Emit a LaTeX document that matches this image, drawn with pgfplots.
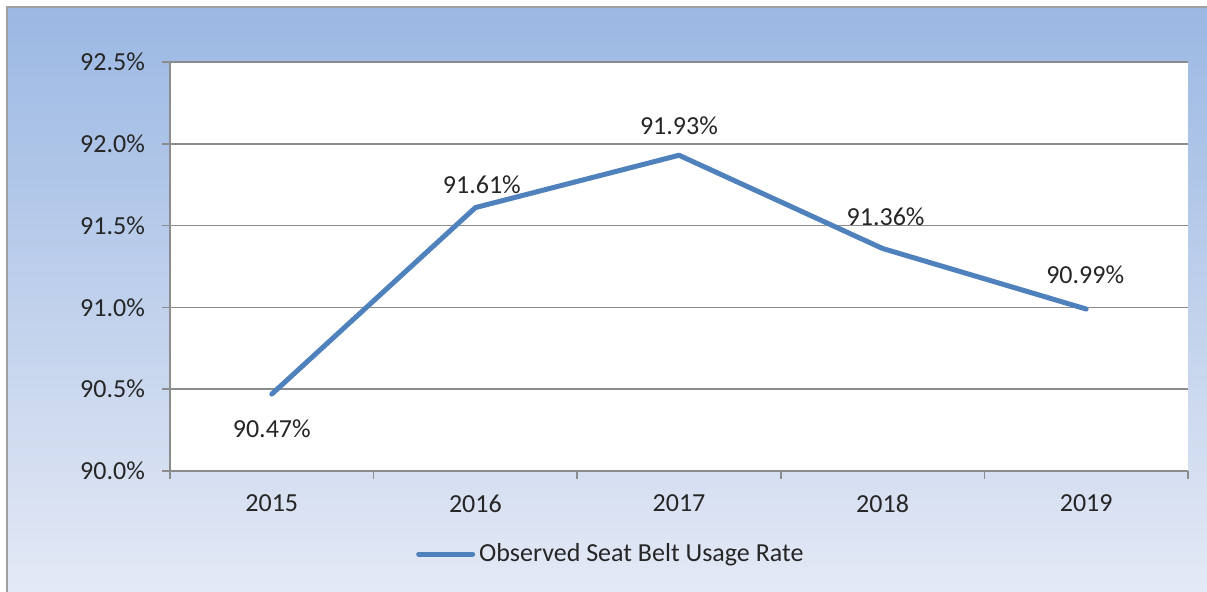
\documentclass[border=0pt]{standalone}
\usepackage{pgfplots}
\pgfplotsset{compat=1.18}
\usepackage{pgfplotstable}
\usetikzlibrary{backgrounds}
\usepackage{fontspec}
\setmainfont{Carlito}
\definecolor{lineblue}{RGB}{79,129,189}
\definecolor{gridgray}{RGB}{140,140,140}
\definecolor{bgtop}{RGB}{155,184,227}
\definecolor{bgbot}{RGB}{228,233,245}
\definecolor{txt}{RGB}{38,38,38}
\definecolor{border}{RGB}{160,160,160}
\pgfplotstableread{
x y dx dy lab
0 90.47 0 -17.5 90.47\%
1 91.61 3.25 11.5 91.61\%
2 91.93 0 15 91.93\%
3 91.36 1.5 16 91.36\%
4 90.99 -0.5 17 90.99\%
}\datatable
\begin{document}
\begin{tikzpicture}[x=1pt,y=1pt]
\begin{axis}[
  scale only axis, width=509pt, height=204.5pt,
  axis background/.style={fill=white},
  font=\fontsize{13}{15}\selectfont\color{txt},
  /pgf/number format/assume math mode=true,
  xmin=-0.5, xmax=4.5, ymin=90, ymax=92.5,
  xtick={-0.5,0.5,1.5,2.5,3.5,4.5},
  xticklabels={2015,2016,2017,2018,2019},
  x tick label as interval,
  ytick={90,90.5,91,91.5,92,92.5},
  yticklabel={\pgfmathprintnumber[fixed,fixed zerofill,precision=1]{\tick}\%},
  axis lines*=left,
  axis line style={gridgray,line width=0.75pt},
  tick style={gridgray,line width=0.75pt},
  major tick length=4pt,
  tick align=outside,
  ymajorgrids,
  grid style={gridgray,line width=0.75pt},
  yticklabel style={xshift=-5pt},
  xticklabel style={yshift=-4.25pt},
  legend style={at={(0.434,-0.203)}, anchor=center, draw=none, fill=none,
    font=\fontsize{13}{15}\selectfont\color{txt}},
  legend cell align=left,
  legend image code/.code={\draw[#1,line width=2.5pt,line cap=round] (0pt,0pt) -- (27pt,0pt);},
  clip=false,
]
\coordinate (O) at (rel axis cs:0,0);
\addplot[lineblue, line width=2.5pt, line cap=round, line join=round,
  nodes near coords={\pgfplotspointmeta},
  point meta=explicit symbolic,
  visualization depends on={\thisrow{dx} \as \dx},
  visualization depends on={\thisrow{dy} \as \dy},
  every node near coord/.append style={anchor=center, xshift=\dx pt, yshift=\dy pt,
    font=\fontsize{13}{15}\selectfont, text=txt},
] table[x=x, y=y, meta=lab] {\datatable};
\addlegendentry{Observed Seat Belt Usage Rate}
\end{axis}
\begin{scope}[on background layer]
\fill[white] ([shift={(-85pt,-60.5pt)}]O) rectangle ([shift={(518.5pt,235.5pt)}]O);
\shade[top color=bgtop,bottom color=bgbot] ([shift={(-81.5pt,-60.5pt)}]O) rectangle ([shift={(518.5pt,232pt)}]O);
\draw[border,line width=0.9pt] ([shift={(-81.5pt,-60.5pt)}]O) -- ([shift={(-81.5pt,232pt)}]O) -- ([shift={(518.5pt,232pt)}]O);
\end{scope}
\pgfresetboundingbox
\path[use as bounding box] ([shift={(-85pt,-60.5pt)}]O) rectangle ([shift={(518.5pt,235.5pt)}]O);
\end{tikzpicture}
\end{document}
